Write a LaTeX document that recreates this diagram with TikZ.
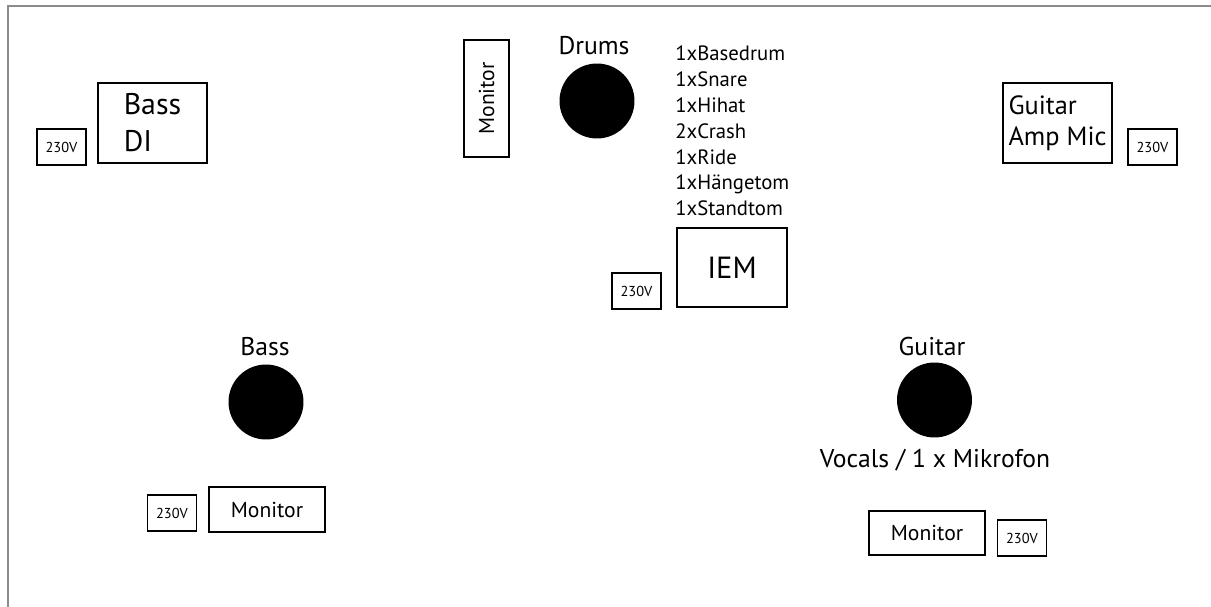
\documentclass[tikz,border=0pt]{standalone}
\usepackage{fontspec}
\setmainfont{PT Sans}
\tikzset{
  box/.style={draw, line width=1.1pt, inner sep=0pt},
  sz/.style 2 args={minimum width=#1*0.02cm, minimum height=#2*0.02cm},
  plug/.style={box, sz={49}{36}, font=\fontsize{8.2}{9}\selectfont},
  spot/.style={circle, fill, inner sep=0pt, minimum size=1.5cm},
  lbl/.style={anchor=base, font=\fontsize{14.6}{16}\selectfont},
  mon/.style={box, font=\fontsize{12.3}{14}\selectfont}
}
\begin{document}
\begin{tikzpicture}[x=0.02cm,y=-0.02cm]
  \useasboundingbox (0,0) rectangle (1211,607);
  \draw[gray!90, line width=1.2pt] (8,607)--(8,6)--(1211,6);
  % left side
  \node[plug] (pwrdi) at (61.5,147) {230V};
  \node[box, sz={109}{80}, align=left,
        font=\fontsize{17}{21}\selectfont] (bassdi) at (152.5,123) {Bass\\DI};
  % drums
  \node[mon, sz={117}{45}, rotate=90] (drummon) at (486.5,98.5) {Monitor};
  \node[lbl] (drumlbl) at (594,55) {Drums};
  \node[spot] (drums) at (597,101) {};
  \foreach \t [count=\i] in {1xBasedrum,1xSnare,1xHihat,2xCrash,1xRide,1xHängetom,1xStandtom}
    \node[anchor=base west, inner sep=0pt, font=\fontsize{11.8}{13}\selectfont]
      (drum\i) at (675,{61+25.8*(\i-1)}) {\t};
  \node[box, sz={110}{79}, font=\fontsize{17.4}{19}\selectfont] (iem) at (732,267.5) {IEM};
  \node[plug] (pwriem) at (636.5,291) {230V};
  % right side
  \node[box, sz={109}{80}, align=left,
        font=\fontsize{15}{17.6}\selectfont] (ampmic) at (1057.5,123) {Guitar\\Amp Mic};
  \node[plug] (pwramp) at (1152.5,147) {230V};
  % bass
  \node[lbl] (basslbl) at (265,356) {Bass};
  \node[spot] (bass) at (266,402) {};
  \node[plug] (pwrbass) at (172,513) {230V};
  \node[mon, sz={116}{45}] (bassmon) at (267,509.5) {Monitor};
  % guitar
  \node[lbl] (gtrlbl) at (932,356) {Guitar};
  \node[spot] (gtr) at (934.5,400) {};
  \node[lbl] (vocals) at (935,468) {Vocals / 1 x Mikrofon};
  \node[mon, sz={116}{44}] (gtrmon) at (927,533) {Monitor};
  \node[plug] (pwrgtr) at (1022,538) {230V};
\end{tikzpicture}
\end{document}
